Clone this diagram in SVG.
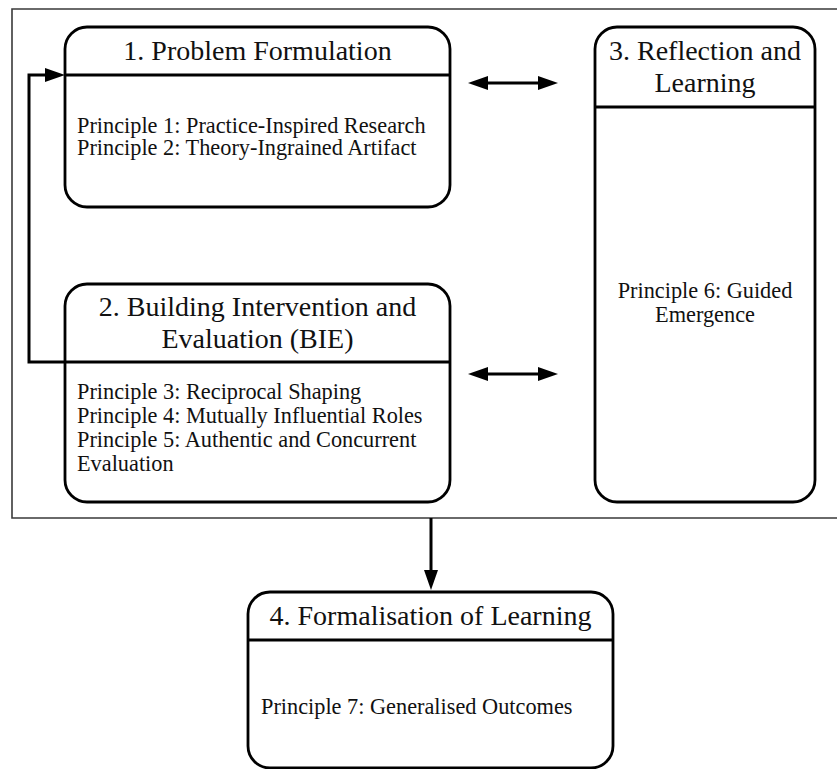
<svg xmlns="http://www.w3.org/2000/svg" width="837" height="769" viewBox="0 0 837 769">
  <style>
    .box { fill: #ffffff; stroke: #000000; stroke-width: 2.8; }
    .div { stroke: #000000; stroke-width: 2.8; }
    .frame { fill: none; stroke: #3a3a3a; stroke-width: 1.6; }
    .title { font-family: "Liberation Serif", "Times New Roman", serif; font-size: 28px; fill: #111111; text-anchor: middle; }
    .body { font-family: "Liberation Serif", "Times New Roman", serif; font-size: 22.3px; fill: #111111; }
    .mid { text-anchor: middle; }
    .conn { fill: none; stroke: #000000; stroke-width: 3; }
  </style>
  <defs>
    <marker id="ah" markerUnits="userSpaceOnUse" markerWidth="21" markerHeight="14" refX="2" refY="7" orient="auto-start-reverse">
      <path d="M0,0 L20,7 L0,14 Z" fill="#000000"/>
    </marker>
  </defs>

  <!-- enclosing frame for the iterative stages (open on the right) -->
  <path class="frame" d="M840,9 H12 V518 H840"/>

  <!-- 1. Problem Formulation -->
  <g id="node-problem-formulation">
    <rect class="box" x="65" y="27" width="385" height="180" rx="22" ry="22"/>
    <line class="div" x1="65" y1="75" x2="450" y2="75"/>
    <text class="title" x="257.5" y="60">1. Problem Formulation</text>
    <text class="body" x="77" y="133">Principle 1: Practice-Inspired Research</text>
    <text class="body" x="77" y="155">Principle 2: Theory-Ingrained Artifact</text>
  </g>

  <!-- 2. Building Intervention and Evaluation -->
  <g id="node-bie">
    <rect class="box" x="65" y="284" width="385" height="218" rx="22" ry="22"/>
    <line class="div" x1="65" y1="362" x2="450" y2="362"/>
    <text class="title" x="257.5" y="316">2. Building Intervention and</text>
    <text class="title" x="257.5" y="348">Evaluation (BIE)</text>
    <text class="body" x="77" y="399">Principle 3: Reciprocal Shaping</text>
    <text class="body" x="77" y="423">Principle 4: Mutually Influential Roles</text>
    <text class="body" x="77" y="447">Principle 5: Authentic and Concurrent</text>
    <text class="body" x="77" y="471">Evaluation</text>
  </g>

  <!-- 3. Reflection and Learning -->
  <g id="node-reflection">
    <rect class="box" x="595" y="27" width="220" height="475" rx="22" ry="22"/>
    <line class="div" x1="595" y1="107" x2="815" y2="107"/>
    <text class="title" x="705" y="60">3. Reflection and</text>
    <text class="title" x="705" y="92">Learning</text>
    <text class="body mid" x="705" y="298">Principle 6: Guided</text>
    <text class="body mid" x="705" y="322">Emergence</text>
  </g>

  <!-- 4. Formalisation of Learning -->
  <g id="node-formalisation">
    <rect class="box" x="248" y="592" width="365" height="176" rx="22" ry="22"/>
    <line class="div" x1="248" y1="640" x2="613" y2="640"/>
    <text class="title" x="430.5" y="625">4. Formalisation of Learning</text>
    <text class="body" x="261" y="714">Principle 7: Generalised Outcomes</text>
  </g>

  <!-- connectors -->
  <g id="connectors">
    <path class="conn" d="M486,83 H540" marker-start="url(#ah)" marker-end="url(#ah)"/>
    <path class="conn" d="M486,374 H540" marker-start="url(#ah)" marker-end="url(#ah)"/>
    <path class="conn" d="M66,362 H29 V75 H47" marker-end="url(#ah)"/>
    <path class="conn" d="M431,518 V572" marker-end="url(#ah)"/>
  </g>
</svg>
